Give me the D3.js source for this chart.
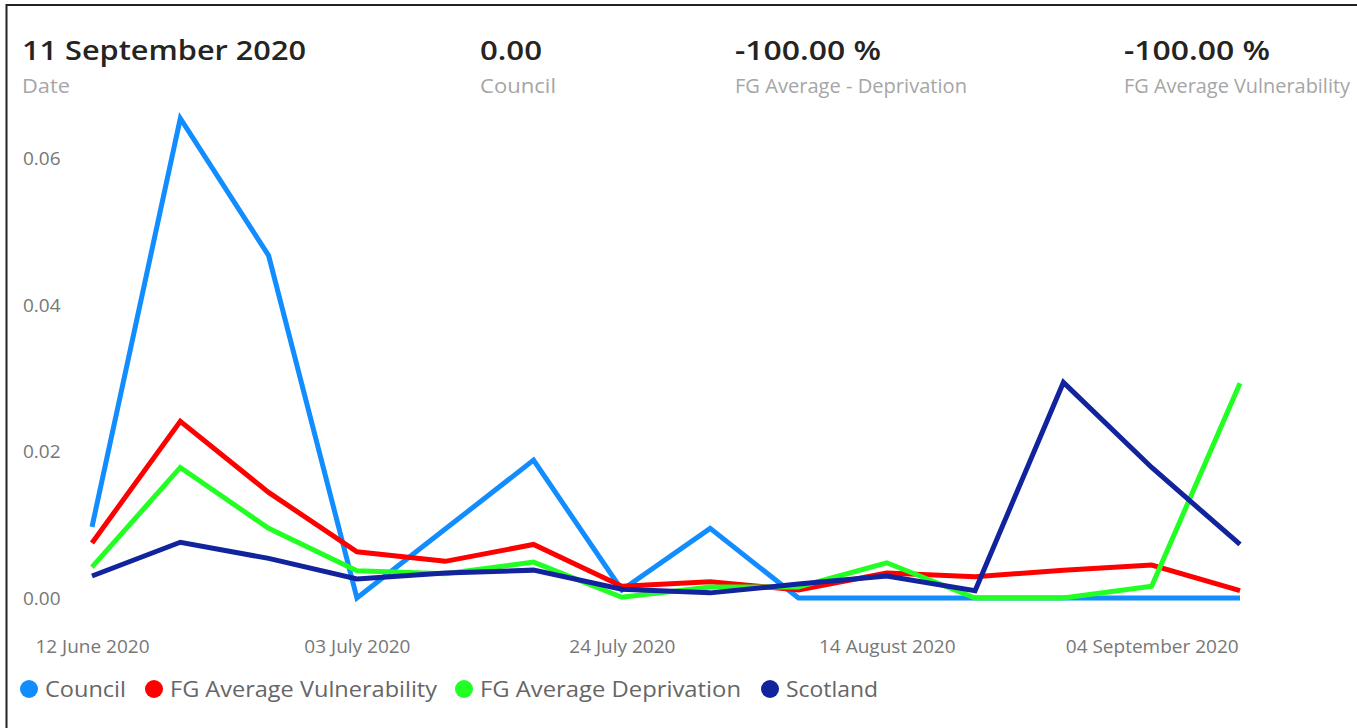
<!DOCTYPE html>
<html>
<head>
<meta charset="utf-8">
<script src="https://cdn.jsdelivr.net/npm/d3@7"></script>
<style>
  html, body { margin: 0; padding: 0; background: #fff; }
  svg { display: block; font-family: "Open Sans", "Noto Sans", sans-serif; }
</style>
</head>
<body>
<svg id="chart" width="1357" height="728"></svg>
<script>
// ---- data ----
const dates = ["2020-06-12","2020-06-19","2020-06-26","2020-07-03","2020-07-10","2020-07-17","2020-07-24",
               "2020-07-31","2020-08-07","2020-08-14","2020-08-21","2020-08-28","2020-09-04","2020-09-11"];
const council       = [0.0097, 0.0654, 0.0467, 0.0000, 0.0094, 0.0188, 0.0011, 0.0095, 0.0000, 0.0000, 0.0000, 0.0000, 0.0000, 0.0000];
const fgVulnerable  = [0.0075, 0.0241, 0.0144, 0.0063, 0.0050, 0.0073, 0.0016, 0.0022, 0.0011, 0.0034, 0.0029, 0.0038, 0.0045, 0.0010];
const fgDeprivation = [0.0042, 0.0178, 0.0095, 0.0037, 0.0033, 0.0049, 0.0001, 0.0015, 0.0015, 0.0048, 0.0000, 0.0000, 0.0016, 0.0293];
const scotland      = [0.0030, 0.0076, 0.0054, 0.0026, 0.0034, 0.0038, 0.0012, 0.0007, 0.0019, 0.0030, 0.0010, 0.0294, 0.0178, 0.0073];
const seriesNames   = ["Council", "FG Average Vulnerability", "FG Average Deprivation", "Scotland"];
const seriesColors  = ["#118DFF", "#FF0000", "#22FF22", "#12239E"];
const xTickLabels   = ["12 June 2020", "03 July 2020", "24 July 2020", "14 August 2020", "04 September 2020"];
const yTickValues   = [0, 0.02, 0.04, 0.06];
const cards = [
  {value: "11 September 2020", label: "Date"},
  {value: "0.00", label: "Council"},
  {value: "-100.00 %", label: "FG Average - Deprivation"},
  {value: "-100.00 %", label: "FG Average Vulnerability"}
];

// ---- layout ----
const svg = d3.select("#chart");
const parse = d3.timeParse("%Y-%m-%d");
const parseTick = d3.timeParse("%d %B %Y");
const fmtTick = d3.timeFormat("%d %B %Y");
const dts = dates.map(parse);

const x = d3.scaleTime().domain(d3.extent(dts)).range([92, 1240]);
const y = d3.scaleLinear().domain([0, 0.06]).range([598, 158]);

// frame (top + left)
svg.append("line").attr("x1", 6).attr("x2", 1357).attr("y1", 5).attr("y2", 5)
  .attr("stroke", "#222").attr("stroke-width", 2);
svg.append("line").attr("x1", 6.5).attr("x2", 6.5).attr("y1", 4).attr("y2", 728)
  .attr("stroke", "#222").attr("stroke-width", 2);

// cards
const cardPos = [
  {x: 22, vw: 284, lw: 48},
  {x: 480, vw: 62, lw: 76},
  {x: 735, vw: 146, lw: 232},
  {x: 1124, vw: 146, lw: 226}
];
cards.forEach((c, i) => {
  const p = cardPos[i];
  svg.append("text").attr("x", p.x).attr("y", 60)
    .attr("font-size", 27).attr("font-weight", 600).attr("fill", "#252423")
    .attr("textLength", p.vw).attr("lengthAdjust", "spacingAndGlyphs")
    .text(c.value);
  svg.append("text").attr("x", p.x).attr("y", 93)
    .attr("font-size", 20).attr("fill", "#a6a6a6")
    .attr("textLength", p.lw).attr("lengthAdjust", "spacingAndGlyphs")
    .text(c.label);
});

// y axis
const yAxis = d3.axisLeft(y).tickValues(yTickValues).tickFormat(d3.format(".2f")).tickSize(0);
const gy = svg.append("g").attr("transform", "translate(23,0)").call(yAxis);
gy.select(".domain").remove();
gy.selectAll("text").attr("font-size", 19).attr("fill", "#777").attr("font-family", "Open Sans, sans-serif")
  .attr("text-anchor", "start").attr("x", 0).attr("dy", "0.35em");

// x axis
const xAxis = d3.axisBottom(x).tickValues(xTickLabels.map(parseTick)).tickFormat(fmtTick).tickSize(0);
const gx = svg.append("g").attr("transform", "translate(0,646)").call(xAxis);
gx.select(".domain").remove();
gx.selectAll("text").attr("font-size", 19).attr("fill", "#777").attr("font-family", "Open Sans, sans-serif")
  .attr("dy", "0.35em").attr("y", 0);

// lines
const allSeries = [council, fgVulnerable, fgDeprivation, scotland];
const line = d3.line().x((d, i) => x(dts[i])).y(d => y(d));
allSeries.forEach((s, k) => {
  svg.append("path").datum(s)
    .attr("fill", "none").attr("stroke", seriesColors[k])
    .attr("stroke-width", 5).attr("stroke-linejoin", "miter").attr("stroke-linecap", "butt")
    .attr("d", line);
});

// legend
const legendPos = [29, 154, 464, 770];
const legendW = [81, 267, 261, 92];
seriesNames.forEach((n, k) => {
  const g = svg.append("g").attr("transform", `translate(${legendPos[k]},689)`);
  g.append("circle").attr("r", 9).attr("fill", seriesColors[k]);
  g.append("text").attr("x", 16).attr("dy", "0.35em").attr("font-size", 22).attr("fill", "#666")
    .attr("textLength", legendW[k]).attr("lengthAdjust", "spacingAndGlyphs")
    .text(n);
});
</script>
</body>
</html>
